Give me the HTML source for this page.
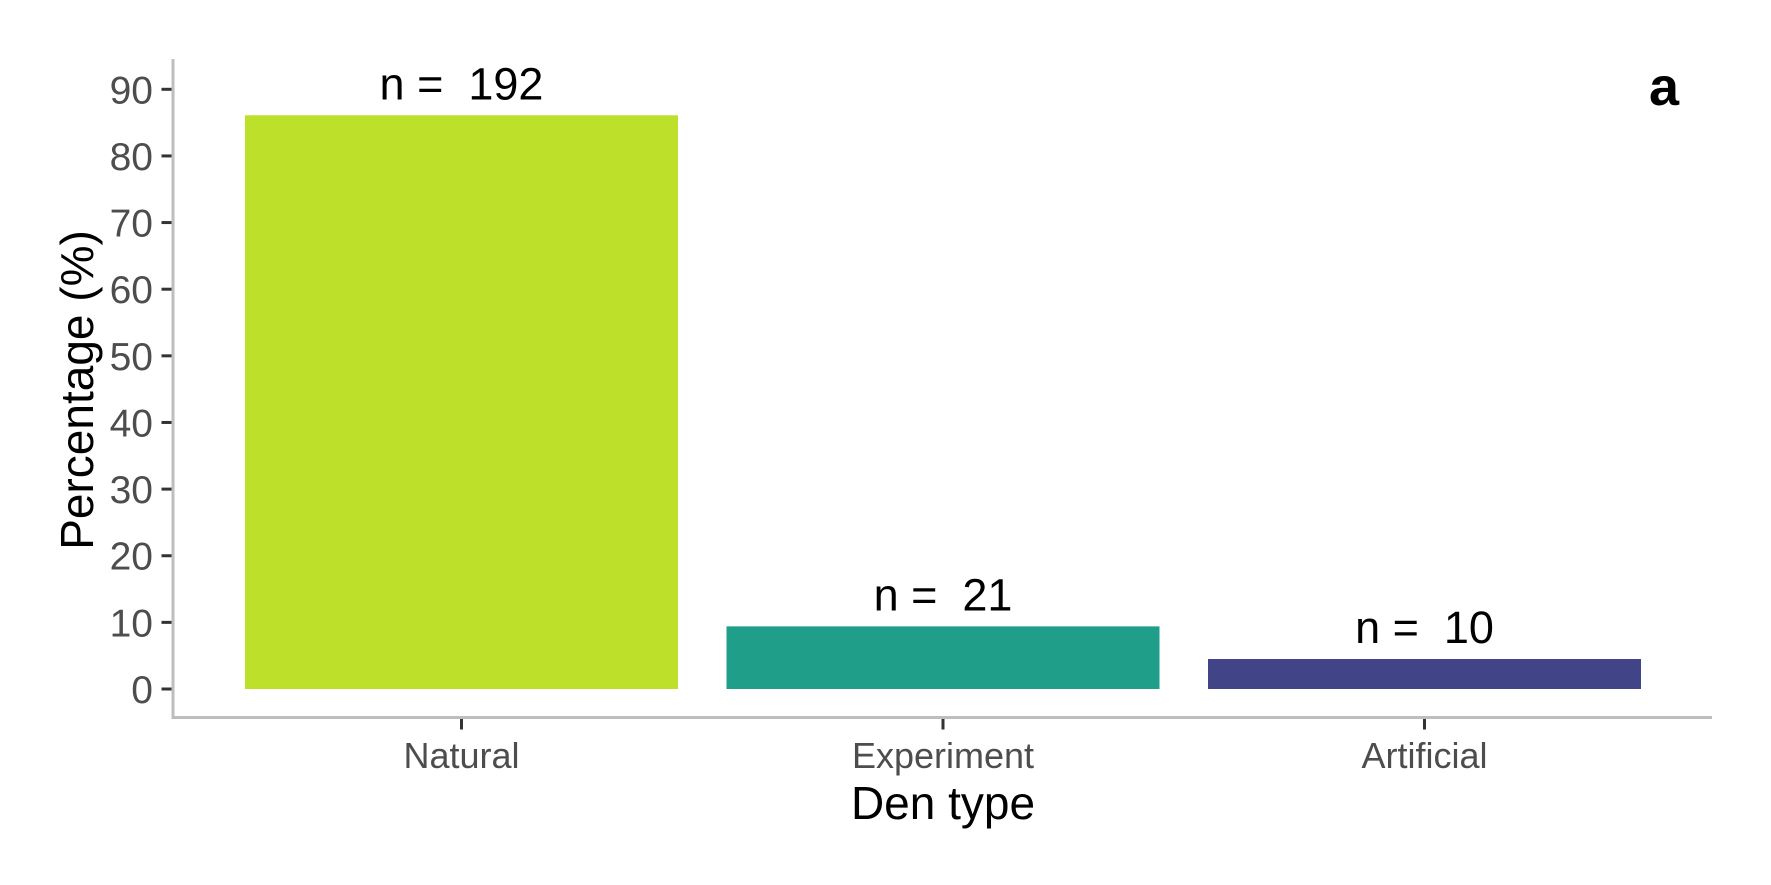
<!DOCTYPE html>
<html><head><meta charset="utf-8"><style>
html,body{margin:0;padding:0;background:#fff;}
svg{display:block;font-family:"Liberation Sans",Arial,sans-serif;}
</style></head><body>
<svg id="chart" width="1771" height="885" viewBox="0 0 1771 885">
<g id="g"></g>
</svg>
<script>
const categories = ["Natural","Experiment","Artificial"];
const values = [86.1, 9.4, 4.5];
const counts = [192, 21, 10];
const colors = ["#bde12a","#1f9e89","#414487"];
const yTicks = [0,10,20,30,40,50,60,70,80,90];

const NS="http://www.w3.org/2000/svg";
const g=document.getElementById('g');
const x0=173, x1=1712, yAxisTop=59, xAxisY=717.5;
const yPix0=689, yPix90=89.3;
function yScale(v){return yPix0+(yPix90-yPix0)*v/90;}
const bandStart=245, bandStep=481.5, barW=433;
function xCenter(i){return bandStart+barW/2+i*bandStep;}
function el(tag,attrs,text){const e=document.createElementNS(NS,tag);for(const k in attrs)e.setAttribute(k,attrs[k]);if(text!==undefined)e.textContent=text;g.appendChild(e);return e;}

categories.forEach((c,i)=>{
  const top=yScale(values[i]);
  const r=el('rect',{x:xCenter(i)-barW/2,y:top,width:barW,height:yScale(0)-top,fill:colors[i]});
  
  
  const t=el('text',{x:xCenter(i),y:top-16,'text-anchor':'middle','font-size':45,fill:'#000','xml:space':'preserve'},'n =  '+counts[i]);
  t.style.whiteSpace='pre';
  
  
  const tk=el('line',{x1:xCenter(i),x2:xCenter(i),y1:xAxisY,y2:xAxisY+12,stroke:'#333',"stroke-width":3});
  
  
  const tl=el('text',{x:xCenter(i),y:768,'text-anchor':'middle','font-size':36,fill:'#4d4d4d'},c);
  
  
});
yTicks.forEach(v=>{
  const y=yScale(v);
  const tk=el('line',{x1:161.5,x2:x0,y1:y,y2:y,stroke:'#333',"stroke-width":3});
  
  
  const tl=el('text',{x:153,y:y+14,'text-anchor':'end','font-size':39,fill:'#4d4d4d'},String(v));
  
  
});
const ya=el('line',{x1:x0,x2:x0,y1:yAxisTop,y2:xAxisY+1.5,stroke:'#bebebe',"stroke-width":3});


const xa=el('line',{x1:x0-1.5,x2:x1,y1:xAxisY,y2:xAxisY,stroke:'#bebebe',"stroke-width":3});


const xt=el('text',{x:xCenter(1),y:819,'text-anchor':'middle','font-size':46,fill:'#000'},'Den type');


const yt=el('text',{x:0,y:0,'text-anchor':'middle','font-size':46,fill:'#000',transform:'translate(93,390) rotate(-90)'},'Percentage (%)');


const pl=el('text',{x:1679,y:105,'text-anchor':'end','font-size':54,'font-weight':'bold',fill:'#000'},'a');


</script>
</body></html>
